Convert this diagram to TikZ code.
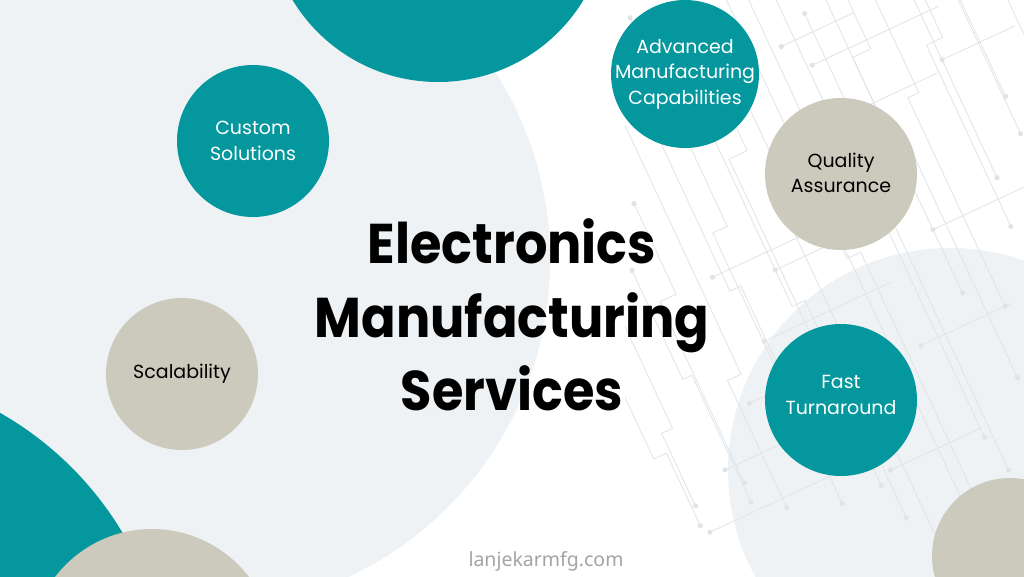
\documentclass[tikz,border=0pt]{standalone}
\usepackage{fontspec}
\setmainfont{Poppins}
\newfontfamily\titlefont{Poppins}[FakeStretch=0.91]
\newfontfamily\sitefont{Noto Sans}
\usetikzlibrary{positioning}
\definecolor{tealdot}{HTML}{04979D}
\definecolor{sand}{HTML}{CBCABC}
\definecolor{mist}{HTML}{EEF2F5}
\definecolor{trace}{HTML}{E0E4E7}
\definecolor{sitegray}{HTML}{A4A4A4}

\tikzset{
  disc/.style={circle,inner sep=0pt,minimum size=152pt},
  disctext/.style={align=center,inner sep=0pt,font=\fontsize{19}{25.5}\selectfont},
  headline/.style={anchor=base,inner sep=0pt,font=\titlefont\fontsize{56}{60}\selectfont\bfseries},
}

\begin{document}
\begin{tikzpicture}[x=1pt,y=-1pt]
     \useasboundingbox (0,0) rectangle (1024,576);
     \fill[white] (0,0) rectangle (1024,576);
     \clip (0,0) rectangle (1024,576);

     % soft background shapes
     \fill[mist] (200,260) circle (350pt);
     \fill[mist] (950,470) circle (222pt);

     % circuit traces
     \begin{scope}
        \clip (625,0) rectangle (1024,576);
        \begin{scope}[shift={(640,-20)},rotate=-65,draw=trace,fill=trace,line width=0.8pt]
           \foreach \v/\a/\j/\d/\b in {-335/0/60/12/150,-315/10/100/-10/230,-295/40/140/15/300,
              -270/0/80/-12/260,-250/60/180/18/380,-225/20/120/-15/330,-205/90/220/12/450,
              -180/0/160/20/420,-160/40/260/-14/520,-135/100/200/16/560,-115/0/300/-12/600,
              -90/60/240/18/640,-70/20/340/-15/640,-45/120/280/12/640,-25/0/200/20/560,
              0/80/360/-14/600,25/30/260/16/520,50/140/320/-12/560,75/60/400/15/540,
              100/200/300/18/500,130/260/380/-10/520,160/300/420/12/500,190/360/440/-14/520}
           {
              \draw (\a,\v) -- (\j,\v) -- (\j,\v+\d) -- (\b,\v+\d);
              \fill (\a,\v) circle (2.6pt);
              \fill (\b,\v+\d) circle (2.6pt);
           }
           \foreach \u/\p/\q in {40/-330/-250,90/-300/-200,150/-260/-120,210/-230/-80,
              260/-170/-40,320/-140/0,380/-100/40,430/-60/80,480/-20/130,530/20/170,
              120/-180/-100,300/-40/60,200/-320/-240,350/-260/-160,450/-200/-100,550/-120/-20}
           {
              \draw (\u,\p) -- (\u,\q);
              \fill (\u,\q) circle (2.6pt);
           }
        \end{scope}
     \end{scope}

     \fill[tealdot] (438,-88) circle (170pt);
     \fill[tealdot] (-166,705) circle (336pt);
     \fill[sand] (152,651) circle (122pt);
     \fill[sand] (1010,556) circle (78pt);

     % service discs
     \node[disc,fill=tealdot] (custom) at (253,141) {};
     \node[disc,fill=sand] (scale) at (182,374) {};
     \node[disc,fill=tealdot,minimum size=148pt] (adv) at (685,74) {};
     \node[disc,fill=sand] (quality) at (841,174) {};
     \node[disc,fill=tealdot] (fast) at (841,400) {};

     \node[disctext,text=white] (customtxt) at (custom) {Custom\\Solutions};
     \node[disctext,text=black] (scaletxt) at (scale) {Scalability};
     \node[disctext,text=white] (advtxt) at (adv) {Advanced\\Manufacturing\\Capabilities};
     \node[disctext,text=black,yshift=1pt] (qualitytxt) at (quality) {Quality\\Assurance};
     \node[disctext,text=white,yshift=5pt] (fasttxt) at (fast) {Fast\\Turnaround};

     % title
     \node[headline] (t1) at (512,263) {Electronics};
     \node[headline] (t2) at (512,337) {Manufacturing};
     \node[headline] (t3) at (512,410) {Services};

     \node[anchor=base,inner sep=0pt,text=sitegray,font=\sitefont\fontsize{19.5}{22}\selectfont] (site) at (546,566) {lanjekarmfg.com};
\end{tikzpicture}
\end{document}
